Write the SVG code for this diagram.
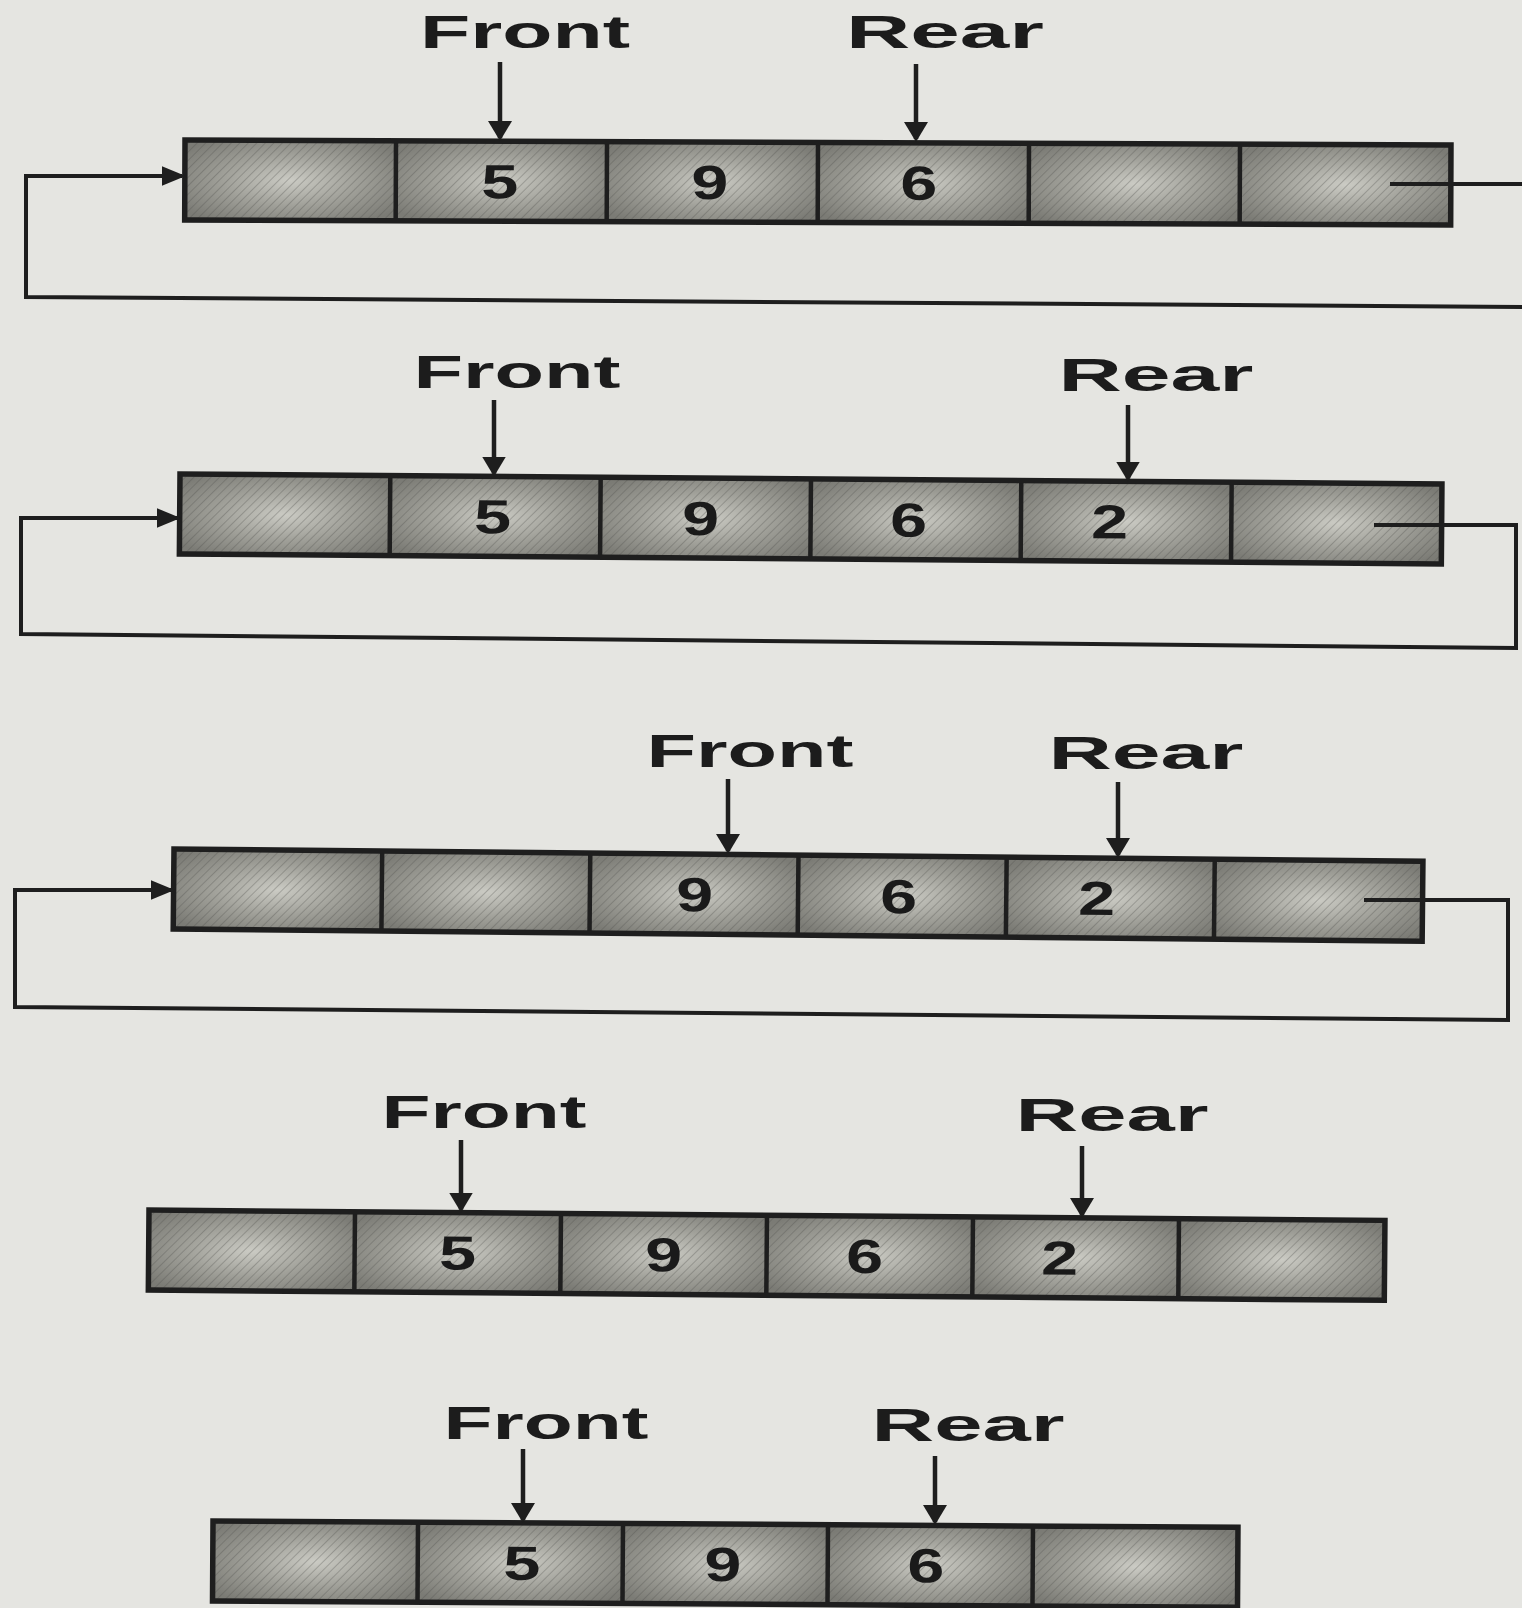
<svg xmlns="http://www.w3.org/2000/svg" width="1522" height="1608" viewBox="0 0 1522 1608">
<style>
.lbl{font-family:"Liberation Sans",Arial,sans-serif;font-weight:bold;font-size:46px;fill:#1c1c1c;text-anchor:middle}
.num{font-family:"Liberation Sans",Arial,sans-serif;font-weight:bold;font-size:48px;fill:#1a1a1a;text-anchor:middle}
.cell{fill:url(#cg)}
.hatch{fill:url(#hp)}
.outline{fill:none;stroke:#1e1e1e;stroke-width:5.5}
.dv{stroke:#1e1e1e;stroke-width:4.5}
.ptr{stroke:#1e1e1e;stroke-width:4.5;marker-end:url(#down)}
.loop{fill:none;stroke:#1e1e1e;stroke-width:4;marker-end:url(#side)}
</style>
<defs>
<radialGradient id="cg" cx="50%" cy="50%" r="62%">
<stop offset="0" stop-color="#cbcbc4"/>
<stop offset="0.5" stop-color="#a1a19a"/>
<stop offset="1" stop-color="#7b7b75"/>
</radialGradient>
<pattern id="hp" width="6" height="6" patternUnits="userSpaceOnUse" patternTransform="rotate(45)">
<line x1="0" y1="0" x2="0" y2="6" stroke="#4e4e4a" stroke-width="1.6" stroke-opacity="0.4"/>
</pattern>
<marker id="down" viewBox="0 0 10 10" refX="8.5" refY="5" markerWidth="20" markerHeight="24" orient="auto" markerUnits="userSpaceOnUse" preserveAspectRatio="none">
<path d="M0,0 L10,5 L0,10 z" fill="#1e1e1e"/>
</marker>
<marker id="side" viewBox="0 0 10 10" refX="8.5" refY="5" markerWidth="24" markerHeight="20" orient="auto" markerUnits="userSpaceOnUse" preserveAspectRatio="none">
<path d="M0,0 L10,5 L0,10 z" fill="#1e1e1e"/>
</marker>
</defs>
<rect x="0" y="0" width="1522" height="1608" fill="#e5e5e1"/>

<!-- Row 1 -->
<g id="queue1" transform="rotate(0.23 185 140)">
<rect class="cell" x="185" y="140" width="211" height="80"/>
<rect class="cell" x="396" y="140" width="211" height="80"/>
<rect class="cell" x="607" y="140" width="211" height="80"/>
<rect class="cell" x="818" y="140" width="211" height="80"/>
<rect class="cell" x="1029" y="140" width="211" height="80"/>
<rect class="cell" x="1240" y="140" width="211" height="80"/>
<rect class="hatch" x="185" y="140" width="1266" height="80"/>
<line class="dv" x1="396" y1="140" x2="396" y2="220"/>
<line class="dv" x1="607" y1="140" x2="607" y2="220"/>
<line class="dv" x1="818" y1="140" x2="818" y2="220"/>
<line class="dv" x1="1029" y1="140" x2="1029" y2="220"/>
<line class="dv" x1="1240" y1="140" x2="1240" y2="220"/>
<rect class="outline" x="185" y="140" width="1266" height="80"/>
<text class="num" x="500" y="197" textLength="37" lengthAdjust="spacingAndGlyphs">5</text>
<text class="num" x="710" y="197" textLength="37" lengthAdjust="spacingAndGlyphs">9</text>
<text class="num" x="919" y="197" textLength="37" lengthAdjust="spacingAndGlyphs">6</text>
</g>
<g id="front1"><text class="lbl" x="525" y="48" textLength="210" lengthAdjust="spacingAndGlyphs">Front</text></g>
<g id="rear1"><text class="lbl" x="945" y="48" textLength="198" lengthAdjust="spacingAndGlyphs">Rear</text></g>

<!-- Row 2 -->
<g id="queue2" transform="rotate(0.45 180 474)">
<rect class="cell" x="180" y="474" width="210.3" height="80"/>
<rect class="cell" x="390.3" y="474" width="210.3" height="80"/>
<rect class="cell" x="600.7" y="474" width="210.3" height="80"/>
<rect class="cell" x="811" y="474" width="210.3" height="80"/>
<rect class="cell" x="1021.3" y="474" width="210.3" height="80"/>
<rect class="cell" x="1231.7" y="474" width="210.3" height="80"/>
<rect class="hatch" x="180" y="474" width="1262" height="80"/>
<line class="dv" x1="390.3" y1="474" x2="390.3" y2="554"/>
<line class="dv" x1="600.7" y1="474" x2="600.7" y2="554"/>
<line class="dv" x1="811" y1="474" x2="811" y2="554"/>
<line class="dv" x1="1021.3" y1="474" x2="1021.3" y2="554"/>
<line class="dv" x1="1231.7" y1="474" x2="1231.7" y2="554"/>
<rect class="outline" x="180" y="474" width="1262" height="80"/>
<text class="num" x="493" y="531" textLength="37" lengthAdjust="spacingAndGlyphs">5</text>
<text class="num" x="701" y="531" textLength="37" lengthAdjust="spacingAndGlyphs">9</text>
<text class="num" x="909" y="531" textLength="37" lengthAdjust="spacingAndGlyphs">6</text>
<text class="num" x="1110" y="531" textLength="37" lengthAdjust="spacingAndGlyphs">2</text>
</g>
<g id="front2"><text class="lbl" x="517" y="388" textLength="207" lengthAdjust="spacingAndGlyphs">Front</text></g>
<g id="rear2"><text class="lbl" x="1156" y="391" textLength="195" lengthAdjust="spacingAndGlyphs">Rear</text></g>

<!-- Row 3 -->
<g id="queue3" transform="rotate(0.56 174 849)">
<rect class="cell" x="174" y="849" width="208.2" height="80"/>
<rect class="cell" x="382.2" y="849" width="208.2" height="80"/>
<rect class="cell" x="590.3" y="849" width="208.2" height="80"/>
<rect class="cell" x="798.5" y="849" width="208.2" height="80"/>
<rect class="cell" x="1006.7" y="849" width="208.2" height="80"/>
<rect class="cell" x="1214.8" y="849" width="208.2" height="80"/>
<rect class="hatch" x="174" y="849" width="1249" height="80"/>
<line class="dv" x1="382.2" y1="849" x2="382.2" y2="929"/>
<line class="dv" x1="590.3" y1="849" x2="590.3" y2="929"/>
<line class="dv" x1="798.5" y1="849" x2="798.5" y2="929"/>
<line class="dv" x1="1006.7" y1="849" x2="1006.7" y2="929"/>
<line class="dv" x1="1214.8" y1="849" x2="1214.8" y2="929"/>
<rect class="outline" x="174" y="849" width="1249" height="80"/>
<text class="num" x="695" y="906" textLength="37" lengthAdjust="spacingAndGlyphs">9</text>
<text class="num" x="899" y="906" textLength="37" lengthAdjust="spacingAndGlyphs">6</text>
<text class="num" x="1097" y="906" textLength="37" lengthAdjust="spacingAndGlyphs">2</text>
</g>
<g id="front3"><text class="lbl" x="750" y="767" textLength="207" lengthAdjust="spacingAndGlyphs">Front</text></g>
<g id="rear3"><text class="lbl" x="1146" y="769" textLength="195" lengthAdjust="spacingAndGlyphs">Rear</text></g>

<!-- Row 4 -->
<g id="queue4" transform="rotate(0.48 149 1210)">
<rect class="cell" x="149" y="1210" width="206" height="80"/>
<rect class="cell" x="355" y="1210" width="206" height="80"/>
<rect class="cell" x="561" y="1210" width="206" height="80"/>
<rect class="cell" x="767" y="1210" width="206" height="80"/>
<rect class="cell" x="973" y="1210" width="206" height="80"/>
<rect class="cell" x="1179" y="1210" width="206" height="80"/>
<rect class="hatch" x="149" y="1210" width="1236" height="80"/>
<line class="dv" x1="355" y1="1210" x2="355" y2="1290"/>
<line class="dv" x1="561" y1="1210" x2="561" y2="1290"/>
<line class="dv" x1="767" y1="1210" x2="767" y2="1290"/>
<line class="dv" x1="973" y1="1210" x2="973" y2="1290"/>
<line class="dv" x1="1179" y1="1210" x2="1179" y2="1290"/>
<rect class="outline" x="149" y="1210" width="1236" height="80"/>
<text class="num" x="458" y="1267" textLength="37" lengthAdjust="spacingAndGlyphs">5</text>
<text class="num" x="664" y="1267" textLength="37" lengthAdjust="spacingAndGlyphs">9</text>
<text class="num" x="865" y="1267" textLength="37" lengthAdjust="spacingAndGlyphs">6</text>
<text class="num" x="1060" y="1267" textLength="37" lengthAdjust="spacingAndGlyphs">2</text>
</g>
<g id="front4"><text class="lbl" x="484" y="1128" textLength="205" lengthAdjust="spacingAndGlyphs">Front</text></g>
<g id="rear4"><text class="lbl" x="1112" y="1131" textLength="193" lengthAdjust="spacingAndGlyphs">Rear</text></g>

<!-- Row 5 -->
<g id="queue5" transform="rotate(0.35 213 1521)">
<rect class="cell" x="213" y="1521" width="205" height="80"/>
<rect class="cell" x="418" y="1521" width="205" height="80"/>
<rect class="cell" x="623" y="1521" width="205" height="80"/>
<rect class="cell" x="828" y="1521" width="205" height="80"/>
<rect class="cell" x="1033" y="1521" width="205" height="80"/>
<rect class="hatch" x="213" y="1521" width="1025" height="80"/>
<line class="dv" x1="418" y1="1521" x2="418" y2="1601"/>
<line class="dv" x1="623" y1="1521" x2="623" y2="1601"/>
<line class="dv" x1="828" y1="1521" x2="828" y2="1601"/>
<line class="dv" x1="1033" y1="1521" x2="1033" y2="1601"/>
<rect class="outline" x="213" y="1521" width="1025" height="80"/>
<text class="num" x="522" y="1578" textLength="37" lengthAdjust="spacingAndGlyphs">5</text>
<text class="num" x="723" y="1578" textLength="37" lengthAdjust="spacingAndGlyphs">9</text>
<text class="num" x="926" y="1578" textLength="37" lengthAdjust="spacingAndGlyphs">6</text>
</g>
<g id="front5"><text class="lbl" x="546" y="1439" textLength="205" lengthAdjust="spacingAndGlyphs">Front</text></g>
<g id="rear5"><text class="lbl" x="968" y="1441" textLength="193" lengthAdjust="spacingAndGlyphs">Rear</text></g>

<!-- Connectors -->
<g id="connectors">
<line class="ptr" x1="500" y1="62" x2="500" y2="138"/>
<line class="ptr" x1="916" y1="64" x2="916" y2="139"/>
<path class="loop" d="M1390,184 L1530,184 L1530,307 L26,297 L26,176 L182,176"/>

<line class="ptr" x1="494" y1="400" x2="494" y2="473.5"/>
<line class="ptr" x1="1128" y1="405" x2="1128" y2="478.5"/>
<path class="loop" d="M1374,525 L1516,525 L1516,648 L21,634 L21,518 L177,518"/>

<line class="ptr" x1="728" y1="779" x2="728" y2="851"/>
<line class="ptr" x1="1118" y1="782" x2="1118" y2="855"/>
<path class="loop" d="M1364,900 L1508,900 L1508,1020 L15,1007 L15,890 L171,890"/>

<line class="ptr" x1="461" y1="1140" x2="461" y2="1209.5"/>
<line class="ptr" x1="1082" y1="1146" x2="1082" y2="1215"/>

<line class="ptr" x1="523" y1="1449" x2="523" y2="1520"/>
<line class="ptr" x1="935" y1="1456" x2="935" y2="1522"/>
</g>
</svg>
